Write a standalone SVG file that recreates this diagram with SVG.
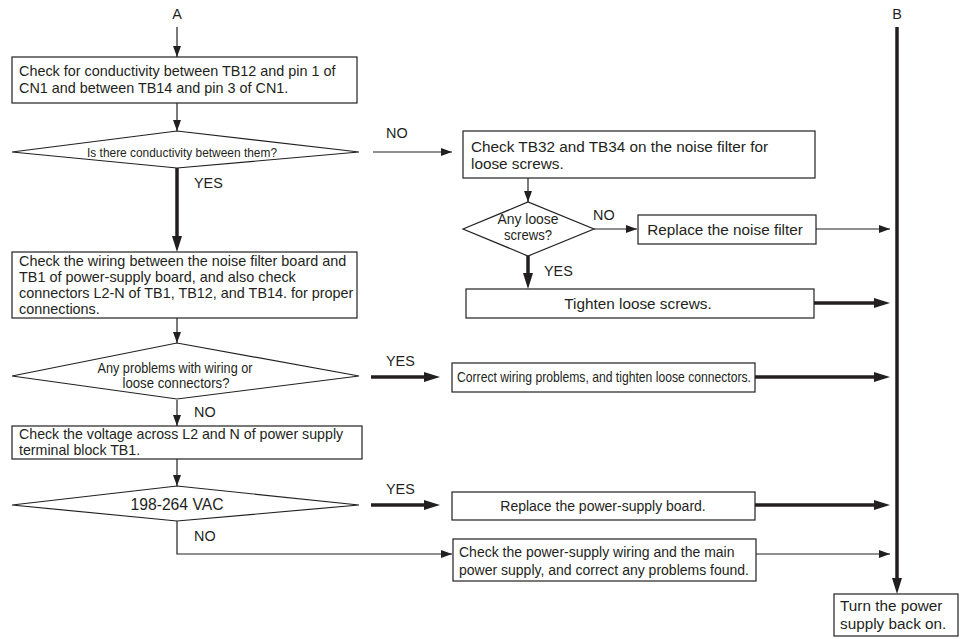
<svg xmlns="http://www.w3.org/2000/svg" width="962" height="639" viewBox="0 0 962 639">
<style>
.box{fill:#fff;stroke:#231f20;stroke-width:1.2}
.t{font-family:"Liberation Sans",Arial,sans-serif;font-size:14.4px;fill:#231f20}
.r{font-size:15.3px}
.s{font-size:14px}
.c{text-anchor:middle}
.ln{fill:none;stroke:#231f20;stroke-width:1.2}
.tk{fill:none;stroke:#231f20;stroke-width:3.5}
</style>
<defs>
<marker id="ah" markerUnits="userSpaceOnUse" markerWidth="12" markerHeight="10" refX="11" refY="4" orient="auto"><path d="M0,0 L11,4 L0,8 z" fill="#231f20"/></marker>
<marker id="ahk" markerUnits="userSpaceOnUse" markerWidth="18" markerHeight="12" refX="8" refY="5" orient="auto"><path d="M0,0 L16,5 L0,10 z" fill="#231f20"/></marker>
</defs>
<rect width="962" height="639" fill="#fff"/>
<g id="connectors">
<path class="ln" d="M177,27 V57" marker-end="url(#ah)"/>
<path class="ln" d="M177,103 V131" marker-end="url(#ah)"/>
<path class="tk" d="M177,168 V244" marker-end="url(#ahk)"/>
<path class="ln" d="M373,152 H452" marker-end="url(#ah)"/>
<path class="ln" d="M528,178 V202" marker-end="url(#ah)"/>
<path class="ln" d="M594,229 H637" marker-end="url(#ah)"/>
<path class="ln" d="M816,229 H890" marker-end="url(#ah)"/>
<path class="tk" d="M528,256 V281" marker-end="url(#ahk)"/>
<path class="tk" d="M814,303 H882" marker-end="url(#ahk)"/>
<path class="ln" d="M177,318 V343" marker-end="url(#ah)"/>
<path class="tk" d="M371,377 H432" marker-end="url(#ahk)"/>
<path class="tk" d="M755,377 H882" marker-end="url(#ahk)"/>
<path class="ln" d="M177,400 V426" marker-end="url(#ah)"/>
<path class="ln" d="M177,459 V486" marker-end="url(#ah)"/>
<path class="tk" d="M371,505 H432" marker-end="url(#ahk)"/>
<path class="tk" d="M755,505 H882" marker-end="url(#ahk)"/>
<path class="ln" d="M177,521 V554 H452" marker-end="url(#ah)"/>
<path class="ln" d="M756,554 H890" marker-end="url(#ah)"/>
<path class="tk" d="M897,27 V586" marker-end="url(#ahk)"/>
<text class="t" x="386" y="138">NO</text>
<text class="t" x="194" y="188">YES</text>
<text class="t" x="593" y="220">NO</text>
<text class="t" x="544" y="276">YES</text>
<text class="t" x="386" y="366">YES</text>
<text class="t" x="194" y="417">NO</text>
<text class="t" x="386" y="494">YES</text>
<text class="t" x="194" y="541">NO</text>
</g>
<g id="startA"><text class="t c" x="177" y="19">A</text></g>
<g id="startB"><text class="t c" x="897" y="19">B</text></g>
<g id="n1">
<rect class="box" x="12" y="57" width="345" height="46"/>
<text class="t" x="19" y="76">Check for conductivity between TB12 and pin 1 of</text>
<text class="t" x="19" y="93">CN1 and between TB14 and pin 3 of CN1.</text>
</g>
<g id="d1">
<polygon class="box" points="12,152 177,131 359,152 177,168"/>
<text class="t c" x="182" y="157" style="font-size:12px" textLength="190" lengthAdjust="spacingAndGlyphs">Is there conductivity between them?</text>
</g>
<g id="n2">
<rect class="box" x="463" y="131" width="352" height="47"/>
<text class="t r" x="471" y="152">Check TB32 and TB34 on the noise filter for</text>
<text class="t r" x="471" y="169">loose screws.</text>
</g>
<g id="d2">
<polygon class="box" points="463,229 528,202 594,229 528,256"/>
<text class="t c" x="528" y="224" style="font-size:14px" textLength="61" lengthAdjust="spacingAndGlyphs">Any loose</text>
<text class="t c" x="528" y="240" style="font-size:14px" textLength="48" lengthAdjust="spacingAndGlyphs">screws?</text>
</g>
<g id="n3">
<rect class="box" x="638" y="215" width="178" height="29"/>
<text class="t r c" x="725" y="235">Replace the noise filter</text>
</g>
<g id="n4">
<rect class="box" x="466" y="289" width="348" height="29"/>
<text class="t r c" x="638" y="309">Tighten loose screws.</text>
</g>
<g id="n5">
<rect class="box" x="12" y="252" width="345" height="66"/>
<text class="t" x="19" y="266">Check the wiring between the noise filter board and</text>
<text class="t" x="19" y="282">TB1 of power-supply board, and also check</text>
<text class="t" x="19" y="298">connectors L2-N of TB1, TB12, and TB14. for proper</text>
<text class="t" x="19" y="314">connections.</text>
</g>
<g id="d3">
<polygon class="box" points="12,376 177,343 359,376 177,399"/>
<text class="t c" x="175" y="373" textLength="155" lengthAdjust="spacingAndGlyphs">Any problems with wiring or</text>
<text class="t c" x="176" y="388" textLength="107" lengthAdjust="spacingAndGlyphs">loose connectors?</text>
</g>
<g id="n6">
<rect class="box" x="452" y="363" width="303" height="29"/>
<text class="t" x="457" y="382" textLength="294" lengthAdjust="spacingAndGlyphs">Correct wiring problems, and tighten loose connectors.</text>
</g>
<g id="n7">
<rect class="box" x="12" y="426" width="350" height="33"/>
<text class="t" x="19" y="439" style="font-size:14.2px">Check the voltage across L2 and N of power supply</text>
<text class="t" x="19" y="455" style="font-size:14.2px">terminal block TB1.</text>
</g>
<g id="d4">
<polygon class="box" points="12,505 177,486 359,505 177,521"/>
<text class="t c" x="177" y="510" style="font-size:15.7px">198-264 VAC</text>
</g>
<g id="n8">
<rect class="box" x="452" y="492" width="303" height="28"/>
<text class="t s c" x="603" y="511">Replace the power-supply board.</text>
</g>
<g id="n9">
<rect class="box" x="453" y="539" width="303" height="42"/>
<text class="t s" x="459" y="557">Check the power-supply wiring and the main</text>
<text class="t s" x="459" y="575">power supply, and correct any problems found.</text>
</g>
<g id="n10">
<rect class="box" x="834" y="594" width="124" height="42"/>
<text class="t r" x="840" y="611">Turn the power</text>
<text class="t r" x="840" y="629">supply back on.</text>
</g>
</svg>
